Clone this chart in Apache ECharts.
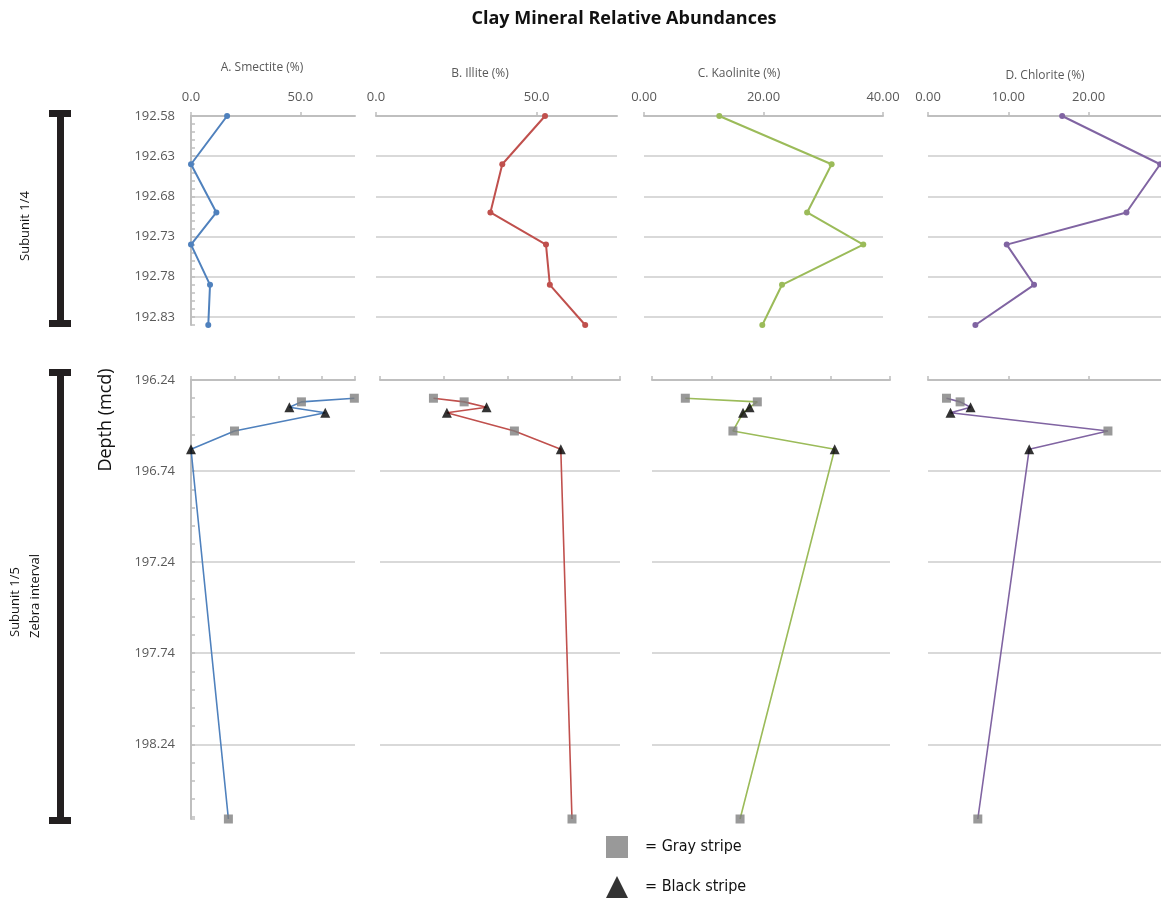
<!DOCTYPE html>
<html>
<head>
<meta charset="utf-8">
<title>Clay Mineral Relative Abundances</title>
<script src="https://cdn.jsdelivr.net/npm/echarts@6/dist/echarts.min.js"></script>
<style>
  html, body { margin: 0; padding: 0; background: #fff; }
  #chart { width: 1161px; height: 899px; }
</style>
</head>
<body>
<div id="chart"></div>
<script>
const mineralNames = ['A. Smectite (%)', 'B. Illite (%)', 'C. Kaolinite (%)', 'D. Chlorite (%)']
const mineralColors = ['#4f81bd', '#c0504d', '#9bbb59', '#8064a2']

// Subunit 1/4
const upperDepth = [192.58, 192.64, 192.70, 192.74, 192.79, 192.84]
const upperSmectite = [16.5, 0.0, 11.6, 0.0, 8.7, 7.9]
const upperIllite = [52.6, 39.3, 35.6, 52.9, 54.1, 65.1]
const upperKaolinite = [12.6, 31.4, 27.3, 36.7, 23.1, 19.8]
const upperChlorite = [16.7, 28.9, 24.7, 9.8, 13.2, 5.9]

// Subunit 1/5 - zebra interval
const zebraDepth = [196.34, 196.36, 196.39, 196.42, 196.52, 196.62, 198.65]
const zebraStripe = ['Gray stripe', 'Gray stripe', 'Black stripe', 'Black stripe', 'Gray stripe', 'Black stripe', 'Gray stripe']
const zebraSmectite = [74.7, 50.5, 45.0, 61.4, 19.9, 0.0, 17.1]
const zebraIllite = [16.7, 26.3, 33.3, 20.9, 42.0, 56.5, 60.0]
const zebraKaolinite = [5.6, 17.7, 16.4, 15.3, 13.6, 30.7, 14.8]
const zebraChlorite = [2.3, 4.0, 5.3, 2.8, 22.4, 12.6, 6.2]

// axis ranges / steps
const upperDepthRange = [192.58, 192.84]
const upperDepthStep = [0.05, 0.01]
const zebraDepthRange = [196.24, 198.65]
const zebraDepthStep = [0.5, 0.1]
const percentMax = [75, 75, 40, 30]
const upperPercentStep = [50, 50, 20, 10]
const zebraPercentStep = [20, 20, 10, 10]
const percentDecimals = [1, 1, 2, 2]
const showEndLabel = [false, false, true, false]

const upperValues = [upperSmectite, upperIllite, upperKaolinite, upperChlorite]
const zebraValues = [zebraSmectite, zebraIllite, zebraKaolinite, zebraChlorite]

// panel boxes [left, width]
const upperBox = [[191, 164], [376, 241], [644, 239], [928, 241]]
const zebraBox = [[191, 164], [380, 240], [652, 238], [928, 241]]
const titlePos = [[262, 68], [480, 74], [739, 74], [1045, 76]]

const FONT = '"Open Sans", "Noto Sans", sans-serif'
const GRID_GRAY = '#d9d9d9'
const AXIS_GRAY = '#bfbfbf'
const LABEL_GRAY = '#595959'

let chart = echarts.init(document.getElementById('chart'))

let grid = []
let xAxis = []
let yAxis = []
let series = []

function depthAxis(gridIndex, range, step, withLabels) {
  return {
    type: 'value',
    gridIndex: gridIndex,
    inverse: true,
    position: 'left',
    min: range[0],
    max: range[1],
    interval: step,
    axisLine: { show: withLabels, onZero: false, lineStyle: { color: AXIS_GRAY, width: 2 } },
    axisTick: { show: false },
    axisLabel: {
      show: withLabels,
      showMaxLabel: false,
      margin: 16,
      color: LABEL_GRAY,
      fontSize: 13,
      fontFamily: FONT,
      formatter: (v) => v.toFixed(2),
    },
    splitLine: {
      show: true,
      showMinLine: false,
      showMaxLine: false,
      lineStyle: { color: GRID_GRAY, width: 2 },
    },
  }
}

// minor tick ruler on the depth axis of the first panel
function tickAxis(gridIndex, range, step) {
  return {
    type: 'value',
    gridIndex: gridIndex,
    inverse: true,
    position: 'left',
    min: range[0],
    max: range[1],
    interval: step,
    axisLine: { show: false, onZero: false },
    axisTick: { show: true, inside: true, length: 4, lineStyle: { color: AXIS_GRAY, width: 1.5 } },
    axisLabel: { show: false },
    splitLine: { show: false },
  }
}

function percentAxis(gridIndex, i, step, withLabels) {
  return {
    type: 'value',
    gridIndex: gridIndex,
    position: 'top',
    min: 0,
    max: percentMax[i],
    interval: step,
    axisLine: { show: true, onZero: false, lineStyle: { color: AXIS_GRAY, width: 2 } },
    axisTick: { show: true, length: 4, lineStyle: { color: AXIS_GRAY, width: 1.5 } },
    axisLabel: {
      show: withLabels,
      showMaxLabel: showEndLabel[i],
      margin: 12,
      color: LABEL_GRAY,
      fontSize: 13,
      fontFamily: FONT,
      formatter: (v) => v.toFixed(percentDecimals[i]),
    },
    splitLine: { show: false },
  }
}

mineralNames.forEach((name, i) => {
  // upper panel
  grid.push({ left: upperBox[i][0], width: upperBox[i][1], top: 116, height: 209, outerBoundsMode: 'none' })
  xAxis.push(percentAxis(i, i, upperPercentStep[i], true))
  yAxis.push(depthAxis(i, upperDepthRange, upperDepthStep[0], i == 0))
  series.push({
    name: name,
    type: 'line',
    xAxisIndex: i,
    yAxisIndex: i,
    data: upperDepth.map((d, k) => [upperValues[i][k], d]),
    symbol: 'circle',
    symbolSize: 6,
    itemStyle: { color: mineralColors[i] },
    lineStyle: { color: mineralColors[i], width: 2 },
    z: 3,
  })
})

mineralNames.forEach((name, i) => {
  // zebra panel
  let g = 4 + i
  grid.push({ left: zebraBox[i][0], width: zebraBox[i][1], top: 380, height: 439, outerBoundsMode: 'none' })
  xAxis.push(percentAxis(g, i, zebraPercentStep[i], false))
  yAxis.push(depthAxis(g, zebraDepthRange, zebraDepthStep[0], i == 0))
  let pts = zebraDepth.map((d, k) => [zebraValues[i][k], d])
  series.push({
    name: name + ' zebra',
    type: 'line',
    xAxisIndex: g,
    yAxisIndex: g,
    data: pts,
    symbol: 'none',
    lineStyle: { color: mineralColors[i], width: 1.6 },
    z: 2,
  })
  series.push({
    name: 'Gray stripe',
    type: 'scatter',
    xAxisIndex: g,
    yAxisIndex: g,
    data: pts.filter((p, k) => zebraStripe[k] == 'Gray stripe'),
    symbol: 'rect',
    symbolSize: 9,
    itemStyle: { color: '#7f7f7f' },
    z: 4,
  })
  series.push({
    name: 'Black stripe',
    type: 'scatter',
    xAxisIndex: g,
    yAxisIndex: g,
    data: pts.filter((p, k) => zebraStripe[k] == 'Black stripe'),
    symbol: 'triangle',
    symbolSize: 10,
    itemStyle: { color: '#000' },
    z: 5,
  })
})

yAxis.push(tickAxis(0, upperDepthRange, upperDepthStep[1]))
yAxis.push(tickAxis(4, zebraDepthRange, zebraDepthStep[1]))

let graphic = []
mineralNames.forEach((name, i) => {
  graphic.push({
    type: 'text',
    x: titlePos[i][0],
    y: titlePos[i][1],
    style: { text: name, font: '12px ' + FONT, fill: LABEL_GRAY, align: 'center', verticalAlign: 'middle' },
  })
})
graphic.push({
  type: 'text', x: 106, y: 420, rotation: Math.PI / 2,
  style: { text: 'Depth (mcd)', font: '18px ' + FONT, fill: '#111', align: 'center', verticalAlign: 'middle' },
})
graphic.push({
  type: 'text', x: 25, y: 226, rotation: Math.PI / 2,
  style: { text: 'Subunit 1/4', font: '13px ' + FONT, fill: '#111', align: 'center', verticalAlign: 'middle' },
})
graphic.push({
  type: 'text', x: 15, y: 637, rotation: Math.PI / 2,
  style: { text: 'Subunit 1/5', font: '13px ' + FONT, fill: '#111', align: 'left', verticalAlign: 'middle' },
})
graphic.push({
  type: 'text', x: 35, y: 638, rotation: Math.PI / 2,
  style: { text: 'Zebra interval', font: '13px ' + FONT, fill: '#111', align: 'left', verticalAlign: 'middle' },
})
// subunit brackets
const bracketColor = '#231f20'
;[[110, 327], [369, 824]].forEach((b) => {
  graphic.push({ type: 'rect', shape: { x: 57, y: b[0], width: 7, height: b[1] - b[0] }, style: { fill: bracketColor } })
  graphic.push({ type: 'rect', shape: { x: 49, y: b[0], width: 22, height: 7 }, style: { fill: bracketColor } })
  graphic.push({ type: 'rect', shape: { x: 49, y: b[1] - 7, width: 22, height: 7 }, style: { fill: bracketColor } })
})

let option = {
  animation: false,
  backgroundColor: '#fff',
  title: {
    text: 'Clay Mineral Relative Abundances',
    left: 619,
    top: 5,
    textAlign: 'center',
    textStyle: { fontFamily: FONT, fontWeight: 'bold', fontSize: 18, color: '#111' },
  },
  legend: {
    orient: 'vertical',
    left: 606,
    top: 836,
    padding: 0,
    itemWidth: 22,
    itemHeight: 22,
    itemGap: 18,
    selectedMode: false,
    data: [
      { name: 'Gray stripe', icon: 'rect' },
      { name: 'Black stripe', icon: 'triangle' },
    ],
    formatter: (n) => '= ' + n,
    textStyle: {
      fontFamily: '"Liberation Sans Narrow", "DejaVu Sans Condensed", sans-serif',
      fontSize: 16,
      color: '#111',
      padding: [0, 0, 0, 12],
    },
  },
  grid: grid,
  xAxis: xAxis,
  yAxis: yAxis,
  series: series,
  graphic: graphic,
}

chart.setOption(option)
</script>
</body>
</html>
